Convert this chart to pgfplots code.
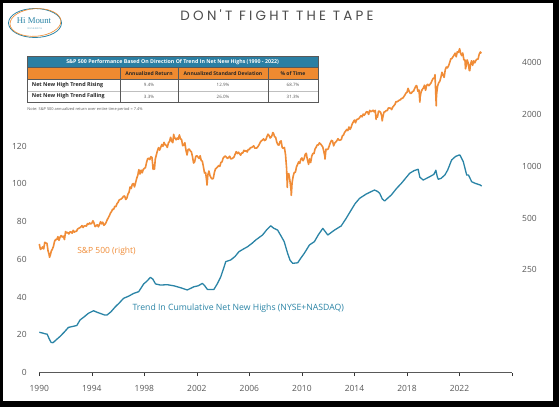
\documentclass[border=0pt]{standalone}
\usepackage{pgfplots}
\pgfplotsset{compat=1.18}
\usepackage{pgfplotstable}
\usepackage{fontspec}
\setmainfont{Open Sans}
\newfontfamily\titlefont[LetterSpace=24]{Poppins}
\newfontfamily\logofont{Liberation Serif}
\definecolor{spx}{HTML}{F08C37}
\definecolor{trend}{HTML}{2A84A6}
\definecolor{thead}{HTML}{2B7FA3}
\definecolor{ohead}{HTML}{EF8A30}
\definecolor{tickc}{HTML}{595959}

\pgfplotstableread{
yr m v
1990 0 353.4
1990 1 329.1
1990 2 331.9
1990 3 339.9
1990 4 330.8
1990 5 361.2
1990 6 358.0
1990 7 356.2
1990 8 322.6
1990 9 306.1
1990 9.35 295.5
1990 10 304.0
1990 11 322.2
1990 12 330.2
1991 1 343.9
1991 2 367.1
1991 3 375.2
1991 4 375.3
1991 5 389.8
1991 6 371.2
1991 7 387.8
1991 8 395.4
1991 9 387.9
1991 10 392.5
1991 11 375.2
1991 12 417.1
1992 1 408.8
1992 2 412.7
1992 3 403.7
1992 4 414.9
1992 5 415.4
1992 6 408.1
1992 7 424.2
1992 8 414.0
1992 9 417.8
1992 10 418.7
1992 11 431.4
1992 12 435.7
1993 1 438.8
1993 2 443.4
1993 3 451.7
1993 4 440.2
1993 5 450.2
1993 6 450.5
1993 7 448.1
1993 8 463.6
1993 9 458.9
1993 10 467.8
1993 11 461.8
1993 12 466.5
1994 1 481.6
1994 2 467.1
1994 3 445.8
1994 4 450.9
1994 5 456.5
1994 6 444.3
1994 7 458.3
1994 8 475.5
1994 9 462.7
1994 10 472.4
1994 11 453.7
1994 12 459.3
1995 1 470.4
1995 2 487.4
1995 3 500.7
1995 4 514.7
1995 5 533.4
1995 6 544.8
1995 7 562.1
1995 8 561.9
1995 9 584.4
1995 10 581.5
1995 11 605.4
1995 12 615.9
1996 1 636.0
1996 2 640.4
1996 3 645.5
1996 4 654.2
1996 5 669.1
1996 6 670.6
1996 7 639.9
1996 8 652.0
1996 9 687.3
1996 10 705.3
1996 11 757.0
1996 12 740.7
1997 1 786.2
1997 2 790.8
1997 3 757.1
1997 4 801.3
1997 5 848.3
1997 6 885.1
1997 7 954.3
1997 8 899.5
1997 9 947.3
1997 10 914.6
1997 11 955.4
1997 12 970.4
1998 1 980.3
1998 2 1049.3
1998 3 1101.8
1998 4 1111.8
1998 5 1090.8
1998 6 1133.8
1998 7 1120.7
1998 8 957.3
1998 9 1017.0
1998 9.25 959.4
1998 10 1098.7
1998 11 1163.6
1998 12 1229.2
1999 1 1279.6
1999 2 1238.3
1999 3 1286.4
1999 4 1335.2
1999 5 1301.8
1999 6 1372.7
1999 7 1328.7
1999 8 1320.4
1999 9 1282.7
1999 10 1362.9
1999 11 1388.9
1999 12 1469.3
2000 1 1394.5
2000 2 1366.4
2000 2.8 1527.5
2000 3 1498.6
2000 4 1452.4
2000 5 1420.6
2000 6 1454.6
2000 7 1430.8
2000 8 1517.7
2000 9 1436.5
2000 10 1429.4
2000 11 1315.2
2000 12 1320.3
2001 1 1366.0
2001 2 1239.9
2001 3 1160.3
2001 4 1249.5
2001 5 1255.8
2001 6 1224.4
2001 7 1211.2
2001 8 1133.6
2001 9 1040.9
2001 10 1059.8
2001 11 1139.5
2001 12 1148.1
2002 1 1130.2
2002 2 1106.7
2002 3 1147.4
2002 4 1076.9
2002 5 1067.1
2002 6 989.8
2002 7 911.6
2002 8 916.1
2002 9 815.3
2002 9.3 776.8
2002 10 885.8
2002 11 936.3
2002 12 879.8
2003 1 855.7
2003 2 841.2
2003 3 848.2
2003 4 916.9
2003 5 963.6
2003 6 974.5
2003 7 990.3
2003 8 1008.0
2003 9 996.0
2003 10 1050.7
2003 11 1058.2
2003 12 1111.9
2004 1 1131.1
2004 2 1144.9
2004 3 1126.2
2004 4 1107.3
2004 5 1120.7
2004 6 1140.8
2004 7 1101.7
2004 8 1104.2
2004 9 1114.6
2004 10 1130.2
2004 11 1173.8
2004 12 1211.9
2005 1 1181.3
2005 2 1203.6
2005 3 1180.6
2005 4 1156.9
2005 5 1191.5
2005 6 1191.3
2005 7 1234.2
2005 8 1220.3
2005 9 1228.8
2005 10 1207.0
2005 11 1249.5
2005 12 1248.3
2006 1 1280.1
2006 2 1280.7
2006 3 1294.9
2006 4 1310.6
2006 5 1270.1
2006 6 1270.2
2006 7 1276.7
2006 8 1303.8
2006 9 1335.9
2006 10 1377.9
2006 11 1400.6
2006 12 1418.3
2007 1 1438.2
2007 2 1406.8
2007 3 1420.9
2007 4 1482.4
2007 5 1530.6
2007 6 1503.4
2007 7 1455.3
2007 8 1474.0
2007 9 1526.8
2007 9.3 1565.2
2007 10 1549.4
2007 11 1481.1
2007 12 1468.4
2008 1 1378.6
2008 2 1330.6
2008 3 1322.7
2008 4 1385.6
2008 5 1400.4
2008 6 1280.0
2008 7 1267.4
2008 8 1282.8
2008 9 1166.4
2008 10 968.8
2008 10.65 752.4
2008 11 896.2
2008 12 903.3
2009 1 825.9
2009 2 735.1
2009 2.3 676.5
2009 3 797.9
2009 4 872.8
2009 5 919.1
2009 6 919.3
2009 7 987.5
2009 8 1020.6
2009 9 1057.1
2009 10 1036.2
2009 11 1095.6
2009 12 1115.1
2010 1 1073.9
2010 2 1104.5
2010 3 1169.4
2010 4 1186.7
2010 5 1089.4
2010 6 1030.7
2010 6.05 1022.6
2010 7 1101.6
2010 8 1049.3
2010 9 1141.2
2010 10 1183.3
2010 11 1180.6
2010 12 1257.6
2011 1 1286.1
2011 2 1327.2
2011 3 1325.8
2011 4 1363.6
2011 5 1345.2
2011 6 1320.6
2011 7 1292.3
2011 8 1218.9
2011 9 1131.4
2011 9.1 1099.2
2011 10 1253.3
2011 11 1247.0
2011 12 1257.6
2012 1 1312.4
2012 2 1365.7
2012 3 1408.5
2012 4 1397.9
2012 5 1310.3
2012 6 1362.2
2012 7 1379.3
2012 8 1406.6
2012 9 1440.7
2012 10 1412.2
2012 11 1416.2
2012 12 1426.2
2013 1 1498.1
2013 2 1514.7
2013 3 1569.2
2013 4 1597.6
2013 5 1630.7
2013 6 1606.3
2013 7 1685.7
2013 8 1633.0
2013 9 1681.6
2013 10 1756.5
2013 11 1805.8
2013 12 1848.4
2014 1 1782.6
2014 2 1859.5
2014 3 1872.3
2014 4 1884.0
2014 5 1923.6
2014 6 1960.2
2014 7 1930.7
2014 8 2003.4
2014 9 1972.3
2014 10 2018.1
2014 11 2067.6
2014 12 2058.9
2015 1 1995.0
2015 2 2104.5
2015 3 2067.9
2015 4 2085.5
2015 5 2107.4
2015 6 2063.1
2015 7 2103.8
2015 7.8 1867.6
2015 8 1972.2
2015 9 1920.0
2015 10 2079.4
2015 11 2080.4
2015 12 2043.9
2016 1 1940.2
2016 1.35 1829.1
2016 2 1932.2
2016 3 2059.7
2016 4 2065.3
2016 5 2096.9
2016 6 2098.9
2016 7 2173.6
2016 8 2171.0
2016 9 2168.3
2016 10 2126.2
2016 11 2199.0
2016 12 2238.8
2017 1 2278.9
2017 2 2363.6
2017 3 2362.7
2017 4 2384.2
2017 5 2411.8
2017 6 2423.4
2017 7 2470.3
2017 8 2471.7
2017 9 2519.4
2017 10 2575.3
2017 11 2647.6
2017 12 2673.6
2018 1 2823.8
2018 2 2713.8
2018 3 2640.9
2018 4 2648.1
2018 5 2705.3
2018 6 2718.4
2018 7 2816.3
2018 8 2901.5
2018 8.65 2930.8
2018 9 2914.0
2018 10 2711.7
2018 11 2760.2
2018 11.8 2351.1
2018 12 2506.9
2019 1 2704.1
2019 2 2784.5
2019 3 2834.4
2019 4 2945.8
2019 5 2752.1
2019 6 2941.8
2019 7 2980.4
2019 8 2926.5
2019 9 2976.7
2019 10 3037.6
2019 11 3141.0
2019 12 3230.8
2020 1 3225.5
2020 1.6 3386.2
2020 2 2954.2
2020 2.75 2237.4
2020 3 2584.6
2020 4 2912.4
2020 5 3044.3
2020 6 3100.3
2020 7 3271.1
2020 8 3500.3
2020 9 3363.0
2020 10 3270.0
2020 11 3621.6
2020 12 3756.1
2021 1 3714.2
2021 2 3811.2
2021 3 3972.9
2021 4 4181.2
2021 5 4204.1
2021 6 4297.5
2021 7 4395.3
2021 8 4522.7
2021 9 4307.5
2021 10 4605.4
2021 11 4567.0
2021 12 4766.2
2022 0.1 4796.6
2022 1 4515.6
2022 2 4373.9
2022 3 4530.4
2022 4 4131.9
2022 5 4132.2
2022 5.5 3666.8
2022 6 3785.4
2022 7 4130.3
2022 8 3955.0
2022 9 3585.6
2022 9.4 3577.0
2022 10 3872.0
2022 11 4080.1
2022 12 3839.5
2023 1 4076.6
2023 2 3970.2
2023 3 4109.3
2023 4 4169.5
2023 5 4179.8
2023 6 4450.4
2023 7 4589.0
2023 8 4507.7
}\spxdata

\pgfplotstableread{
x v
1990.00 21.4
1990.25 21.0
1990.44 20.6
1990.60 20.4
1990.75 18.0
1990.90 16.0
1991.05 15.9
1991.30 17.5
1991.58 19.2
1991.90 21.5
1992.22 24.0
1992.55 24.5
1992.86 25.0
1993.10 27.9
1993.40 29.5
1993.75 31.5
1994.13 32.8
1994.40 32.0
1994.64 31.4
1994.95 30.6
1995.15 30.5
1995.45 32.2
1995.79 34.9
1996.10 37.0
1996.42 39.4
1996.80 40.5
1997.19 42.0
1997.57 42.9
1997.95 47.0
1998.20 48.5
1998.46 50.5
1998.65 49.5
1998.85 47.0
1999.23 46.4
1999.74 46.6
2000.25 46.0
2000.76 45.0
2001.27 43.8
2001.77 45.5
2002.10 46.0
2002.42 47.3
2002.60 46.0
2002.80 44.1
2003.30 44.1
2003.55 47.0
2003.82 50.8
2004.05 55.5
2004.20 58.8
2004.58 59.7
2004.90 61.5
2005.21 64.1
2005.55 65.5
2005.86 66.7
2006.20 68.5
2006.49 70.3
2007.00 72.9
2007.30 75.5
2007.62 77.8
2007.85 76.5
2008.15 75.5
2008.40 72.5
2008.65 69.4
2008.91 63.2
2009.10 59.5
2009.30 57.9
2009.68 58.2
2009.90 60.5
2010.18 63.2
2010.57 67.6
2010.95 69.4
2011.25 73.0
2011.59 76.4
2011.80 74.5
2011.97 72.9
2012.48 75.5
2012.99 77.7
2013.35 81.5
2013.75 86.1
2014.05 89.5
2014.39 92.3
2014.90 94.6
2015.25 95.8
2015.53 96.7
2015.75 96.0
2015.92 95.0
2016.12 92.0
2016.30 90.9
2016.55 92.5
2016.81 94.1
2017.20 97.5
2017.58 100.3
2017.90 103.0
2018.21 105.6
2018.55 107.0
2018.85 107.7
2018.98 103.5
2019.24 102.0
2019.74 103.8
2020.05 105.0
2020.20 107.2
2020.30 104.0
2020.38 102.4
2020.60 102.9
2020.89 104.7
2021.10 107.3
2021.40 112.6
2021.70 114.5
2021.96 115.2
2022.04 115.2
2022.29 111.7
2022.55 104.6
2022.68 104.7
2022.93 101.1
2023.18 100.3
2023.40 99.8
2023.57 99.4
2023.69 98.8
}\trenddata

\begin{document}
\begin{tikzpicture}[x=1bp,y=1bp]
% frame and card
\fill[black] (0,0) rectangle (559,407);
\fill[white] (3,6) rectangle (553,404);
% logo
\draw[trend, line width=0.8bp] (35,384) ellipse (26.5 and 14.5);
\draw[ohead, line width=0.6bp, rotate around={4:(35,384)}] (35.5,384.5) ellipse (25.5 and 13.8);
\node[text=trend, inner sep=0] at (34,386) {\logofont\fontsize{8.8}{10}\selectfont Hi Mount};
\node[text=trend!80, inner sep=0] at (35,378.3) {\fontsize{2.4}{3}\selectfont R\,E\,S\,E\,A\,R\,C\,H};
% title
\node[text=black!70, inner sep=0] at (277,392) {\titlefont\fontsize{13.5}{14}\selectfont DON'T FIGHT THE TAPE};
% table
\fill[thead] (27.3,339.7) rectangle (318,351);
\fill[ohead] (27.3,327.7) rectangle (318,339.7);
\draw[gray!50, line width=0.4bp] (27.3,316.3) -- (318,316.3);
\draw[tickc, line width=0.5bp] (120,304.7) -- (120,339.7) (178,304.7) -- (178,339.7) (268,304.7) -- (268,339.7);
\draw[tickc, line width=0.6bp] (27.3,304.7) rectangle (318,351);
\draw[tickc, line width=0.4bp] (27.3,339.7) -- (318,339.7) (27.3,327.7) -- (318,327.7);
\node[text=white, inner sep=0] at (172.6,345.3) {\bfseries\fontsize{5.3}{6}\selectfont S\&P 500 Performance Based On Direction Of Trend In Net New Highs (1990 - 2022)};
\node[text=black!85, inner sep=0] at (149,333.7) {\bfseries\fontsize{5.1}{6}\selectfont Annualized Return};
\node[text=black!85, inner sep=0] at (223,333.7) {\bfseries\fontsize{5.1}{6}\selectfont Annualized Standard Deviation};
\node[text=black!85, inner sep=0] at (293,333.7) {\bfseries\fontsize{5.1}{6}\selectfont \% of Time};
\node[text=black!85, inner sep=0, anchor=west] at (31.7,322) {\bfseries\fontsize{5.4}{6}\selectfont Net New High Trend Rising};
\node[text=black!85, inner sep=0, anchor=west] at (31.7,310.5) {\bfseries\fontsize{5.4}{6}\selectfont Net New High Trend Falling};
\foreach \xx/\a/\b in {149/9.4/3.3, 223/12.9/26.0, 293/68.7/31.3}{
  \node[text=tickc, inner sep=0] at (\xx,322) {\fontsize{4.5}{5}\selectfont \a\%};
  \node[text=tickc, inner sep=0] at (\xx,310.5) {\fontsize{4.5}{5}\selectfont \b\%};
}
\node[text=tickc, inner sep=0, anchor=west] at (27.3,297.7) {\fontsize{3.9}{4.5}\selectfont Note: S\&P 500 annualized return over entire time period = 7.4\%};

% left axis: trend
\begin{axis}[
  at={(39.3bp,34.3bp)}, anchor=south west, scale only axis,
  width=472.7bp, height=340bp,
  xmin=1990, xmax=2026, ymin=0, ymax=180,
  axis x line*=bottom, axis y line*=left,
  x axis line style={draw=tickc, line width=0.8bp, -},
  y axis line style={draw=none},
  xtick={1990,1994,1998,2002,2006,2010,2014,2018,2022,2026},
  xticklabels={1990,1994,1998,2002,2006,2010,2014,2018,2022,{}},
  ytick={0,20,40,60,80,100,120},
  yticklabels={0,20,40,60,80,100,120},
  ytick style={draw=none},
  xtick style={draw=black!80, line width=0.6bp},
  tick align=outside, major tick length=3.5bp,
  minor tick num=0,
  tick label style={font=\fontsize{8.5}{10}\selectfont, text=tickc},
  yticklabel style={inner sep=0pt, xshift=-9bp},
  xticklabel style={inner sep=0pt, yshift=-9bp},
  clip=false,
]
\addplot[trend, line width=1.3bp, line join=round] table[x=x, y=v] {\trenddata};
\node[anchor=west, inner sep=0, text=trend] at (axis cs:1997.09,34.3) {\fontsize{8.7}{10}\selectfont Trend In Cumulative Net New Highs (NYSE+NASDAQ)};
\node[anchor=west, inner sep=0, text=spx] at (axis cs:1992.88,64.4) {\fontsize{8.5}{10}\selectfont S\&P 500 (right)};
\end{axis}

% right axis: S&P 500 (log)
\begin{axis}[
  at={(39.3bp,34.3bp)}, anchor=south west, scale only axis,
  width=472.7bp, height=340bp,
  xmin=1990, xmax=2026, ymode=log, ymin=63.33, ymax=5939,
  hide x axis, axis y line*=right,
  y axis line style={draw=none},
  ytick={250,500,1000,2000,4000},
  yticklabels={250,500,1000,2000,4000},
  ytick style={draw=none}, minor ytick={},
  minor tick style={draw=none},
  tick label style={font=\fontsize{8.5}{10}\selectfont, text=tickc},
  yticklabel style={inner sep=0pt, anchor=west, xshift=10bp},
  clip=false,
]
\addplot[spx, line width=1.6bp, line join=round] table[x expr=\thisrow{yr}+\thisrow{m}/12, y=v] {\spxdata};
\end{axis}
\end{tikzpicture}
\end{document}
